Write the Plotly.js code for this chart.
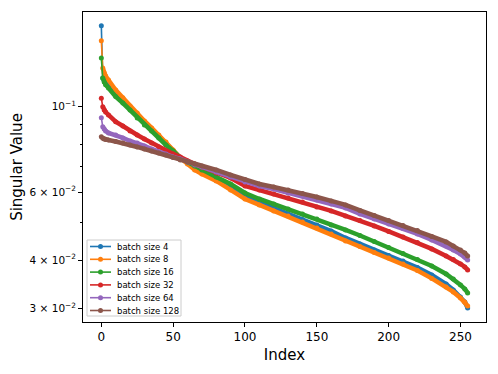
<!DOCTYPE html>
<html>
<head>
<meta charset="utf-8">
<script src="https://cdn.plot.ly/plotly-3.0.1.min.js"></script>
<style>
  html, body { margin: 0; padding: 0; background: #fff; }
  #plot { width: 498px; height: 374px; }
</style>
</head>
<body>
<div id="plot"></div>
<script>
// index of the singular value (read at these positions off the picture)
const idx = [0, 1, 2, 3, 5, 10, 15, 20, 25, 30, 35, 40, 45, 50, 55, 60, 65, 70, 80, 90,
    100, 110, 120, 130, 140, 150, 160, 170, 180, 190, 200, 210, 220, 230, 240, 245, 250, 253, 255];

const bs4 = [0.1622, 0.1187, 0.1166, 0.1152, 0.1139, 0.1079, 0.1035, 0.09923, 0.09478, 0.09073,
    0.08701, 0.08345, 0.08004, 0.07676, 0.07362, 0.07145, 0.06935, 0.06771, 0.06494, 0.06154,
    0.05867, 0.05644, 0.05462, 0.05270, 0.05100, 0.04935, 0.04760, 0.04566, 0.04406, 0.04250,
    0.04113, 0.03980, 0.03829, 0.03661, 0.03469, 0.03347, 0.03210, 0.03116, 0.03006];
const bs8 = [0.1483, 0.1260, 0.1223, 0.1201, 0.1173, 0.1105, 0.1054, 0.1004, 0.09631, 0.09182,
    0.08807, 0.08445, 0.08100, 0.07722, 0.07362, 0.07102, 0.06852, 0.06690, 0.06417, 0.06081,
    0.05763, 0.05561, 0.05365, 0.05207, 0.05024, 0.04847, 0.04676, 0.04485, 0.04341, 0.04187,
    0.04052, 0.03909, 0.03761, 0.03586, 0.03408, 0.03308, 0.03191, 0.03116, 0.03042];
const bs16 = [0.1338, 0.1187, 0.1159, 0.1139, 0.1118, 0.1062, 0.1022, 0.09805, 0.09348, 0.08965,
    0.08649, 0.08296, 0.07956, 0.07676, 0.07362, 0.07188, 0.07018, 0.06852, 0.06572, 0.06303,
    0.05973, 0.05763, 0.05594, 0.05429, 0.05270, 0.05115, 0.04935, 0.04789, 0.04634, 0.04472,
    0.04314, 0.04162, 0.04016, 0.03863, 0.03683, 0.03575, 0.03449, 0.03367, 0.03288];
const bs32 = [0.1052, 0.1000, 0.09805, 0.09689, 0.09517, 0.09144, 0.08912, 0.08649, 0.08445, 0.08246,
    0.08052, 0.07862, 0.07676, 0.07540, 0.07406, 0.07231, 0.07102, 0.06976, 0.06731, 0.06533,
    0.06228, 0.06081, 0.05937, 0.05798, 0.05661, 0.05495, 0.05365, 0.05207, 0.05069, 0.04905,
    0.04746, 0.04593, 0.04445, 0.04276, 0.04100, 0.04016, 0.03909, 0.03840, 0.03772];
const bs64 = [0.09365, 0.08875, 0.08754, 0.08649, 0.08547, 0.08445, 0.08296, 0.08148, 0.08052, 0.07908,
    0.07768, 0.07631, 0.07540, 0.07406, 0.07318, 0.07188, 0.07060, 0.06976, 0.06771, 0.06572,
    0.06379, 0.06228, 0.06117, 0.05973, 0.05867, 0.05729, 0.05594, 0.05462, 0.05270, 0.05115,
    0.04964, 0.04833, 0.04676, 0.04512, 0.04353, 0.04250, 0.04150, 0.04076, 0.04004];
const bs128 = [0.08360, 0.08281, 0.08246, 0.08222, 0.08197, 0.08124, 0.08052, 0.07956, 0.07862, 0.07768,
    0.07676, 0.07585, 0.07495, 0.07384, 0.07274, 0.07188, 0.07102, 0.07018, 0.06852, 0.06651,
    0.06474, 0.06303, 0.06191, 0.06081, 0.05956, 0.05832, 0.05695, 0.05561, 0.05381, 0.05223,
    0.05069, 0.04920, 0.04775, 0.04607, 0.04459, 0.04353, 0.04250, 0.04175, 0.04100];

const names = ['batch size 4', 'batch size 8', 'batch size 16', 'batch size 32', 'batch size 64', 'batch size 128'];
const series = [bs4, bs8, bs16, bs32, bs64, bs128];
const colors = ['#1f77b4', '#ff7f0e', '#2ca02c', '#d62728', '#9467bd', '#8c564b'];

const yTickVals = [0.03, 0.04, 0.06, 0.1];
const yTickText = ['3 × 10<sup>−2</sup>', '4 × 10<sup>−2</sup>', '6 × 10<sup>−2</sup>', '10<sup>−1</sup>'];
const yMinorVals = [0.05, 0.07, 0.08, 0.09];

const W = 498, H = 374;
const M = {l: 83, r: 12, t: 12, b: 52};
const pw = W - M.l - M.r, ph = H - M.t - M.b;

const data = [];
series.forEach((ys, i) => {
    // thick band: the dense markers in the original make the line look fat
    data.push({
        x: idx.slice(1), y: ys.slice(1),
        type: 'scatter', mode: 'lines',
        line: {color: colors[i], width: 4.5},
        showlegend: false, hoverinfo: 'skip'
    });
    data.push({
        x: idx, y: ys, name: names[i],
        type: 'scatter', mode: 'lines+markers',
        line: {color: colors[i], width: 1.6},
        marker: {color: colors[i], size: 5},
        showlegend: false
    });
});

// compact legend like matplotlib's (plotly rows can't be this tight)
const px = x => (x - M.l) / pw;
const py = y => (M.t + ph - y) / ph;
const shapes = [{
    type: 'rect', xref: 'paper', yref: 'paper',
    x0: px(87), x1: px(181), y0: py(316), y1: py(240),
    fillcolor: 'rgba(255,255,255,0.8)', line: {color: '#cccccc', width: 1}
}];
const annotations = [];
names.forEach((n, i) => {
    const yy = 246.5 + i * 12.8;
    shapes.push({
        type: 'line', xref: 'paper', yref: 'paper',
        x0: px(90), x1: px(111), y0: py(yy), y1: py(yy),
        line: {color: colors[i], width: 1.6}
    });
    shapes.push({
        type: 'circle', xref: 'paper', yref: 'paper',
        x0: px(98), x1: px(103), y0: py(yy + 2.5), y1: py(yy - 2.5),
        fillcolor: colors[i], line: {width: 0}
    });
    annotations.push({
        text: n, xref: 'paper', yref: 'paper', x: px(115), y: py(yy),
        xanchor: 'left', yanchor: 'middle', showarrow: false,
        font: {size: 8.5, color: '#000'}
    });
});

const layout = {
    width: W,
    height: H,
    margin: M,
    paper_bgcolor: '#ffffff',
    plot_bgcolor: '#ffffff',
    font: {family: 'DejaVu Sans', color: '#000', size: 12},
    showlegend: false,
    shapes: shapes,
    annotations: annotations,
    xaxis: {
        range: [-12.75, 267.75],
        tickvals: [0, 50, 100, 150, 200, 250],
        ticks: 'outside', ticklen: 4, tickcolor: '#000',
        showline: true, mirror: true, linecolor: '#000', linewidth: 1,
        showgrid: false, zeroline: false,
        tickfont: {size: 12},
        title: {text: 'Index', font: {size: 15}, standoff: 6}
    },
    yaxis: {
        type: 'log',
        range: [Math.log10(0.02764), Math.log10(0.176)],
        tickvals: yTickVals, ticktext: yTickText,
        ticks: 'outside', ticklen: 4, tickcolor: '#000',
        minor: {tickvals: yMinorVals, ticks: 'outside', ticklen: 2.5, tickcolor: '#000', showgrid: false},
        showline: true, mirror: true, linecolor: '#000', linewidth: 1,
        showgrid: false, zeroline: false,
        tickfont: {size: 10.5},
        title: {text: 'Singular Value', font: {size: 15}, standoff: 3}
    }
};

Plotly.newPlot('plot', data, layout, {displayModeBar: false, staticPlot: true});
</script>
</body>
</html>
